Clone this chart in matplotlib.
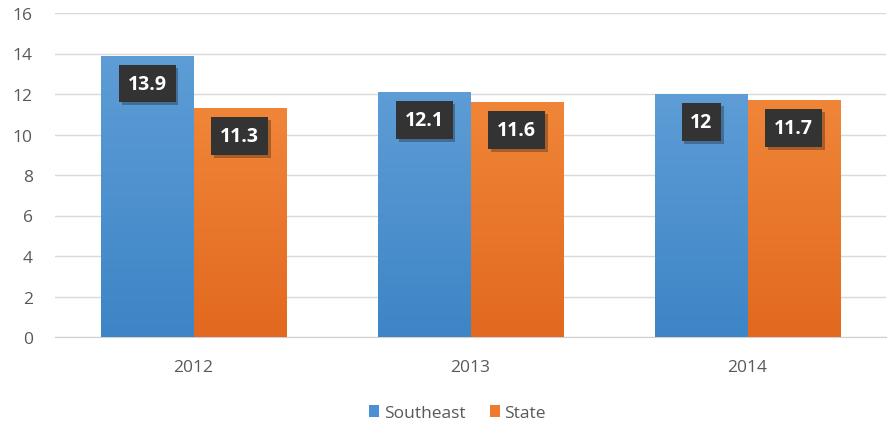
import numpy as np
import matplotlib.pyplot as plt
import matplotlib as mpl
from matplotlib.patches import Patch
import matplotlib.patheffects as pe

mpl.rcParams['font.family'] = ['Open Sans', 'DejaVu Sans']

years = ["2012", "2013", "2014"]
southeast = [13.9, 12.1, 12]
state = [11.3, 11.6, 11.7]
series_names = ["Southeast", "State"]

blue_top, blue_bot = "#5E9DD6", "#3D85C6"
orange_top, orange_bot = "#F08538", "#E2691F"

fig = plt.figure(figsize=(8.88, 4.27), dpi=100)
ax = fig.add_axes([55/888, 89/427, 831/888, 324/427])

x = np.arange(len(years))
w = 0.333

def gradient_bars(bars, c_top, c_bot):
    cmap = mpl.colors.LinearSegmentedColormap.from_list("g", [c_bot, c_top])
    for b in bars:
        x0, y0 = b.get_x(), b.get_y()
        x1, y1 = x0 + b.get_width(), y0 + b.get_height()
        grad = np.linspace(0, 1, 256).reshape(-1, 1)
        im = ax.imshow(grad, extent=[x0, x1, y0, y1], origin="lower",
                       cmap=cmap, aspect="auto", zorder=3)
        im.set_clip_path(b)
        b.set_facecolor("none")

b1 = ax.bar(x - w/2, southeast, w, color=blue_top, zorder=3, linewidth=0)
b2 = ax.bar(x + w/2, state, w, color=orange_top, zorder=3, linewidth=0)
gradient_bars(b1, blue_top, blue_bot)
gradient_bars(b2, orange_top, orange_bot)

# dark value boxes inside the bar tops
for bars, vals in [(b1, southeast), (b2, state)]:
    for b, v in zip(bars, vals):
        ax.annotate(f"{v:g}", (b.get_x() + b.get_width()/2, v),
                    xytext=(0, -28), textcoords="offset pixels",
                    ha="center", va="center", color="white", fontsize=14,
                    fontweight="bold", zorder=5,
                    bbox=dict(boxstyle="square,pad=0.45", fc="#333333", ec="none",
                              path_effects=[pe.withSimplePatchShadow(offset=(2, -2), alpha=0.3)]))

ax.set_xlim(-0.5, 2.5)
ax.set_ylim(0, 16)
ax.set_yticks(range(0, 17, 2))
ax.set_xticks(x, years)
ax.yaxis.grid(True, color="#d9d9d9", linewidth=1)
ax.set_axisbelow(True)
for s in ["top", "right", "left"]:
    ax.spines[s].set_visible(False)
ax.spines["bottom"].set_color("#d0d0d0")
ax.tick_params(axis="both", length=0, labelsize=12.5, labelcolor="#595959")
ax.tick_params(axis="x", pad=16)
ax.tick_params(axis="y", pad=16)

handles = [Patch(facecolor="#4A90D2", label=series_names[0]),
           Patch(facecolor="#EE7A30", label=series_names[1])]
fig.legend(handles=handles, loc="center", bbox_to_anchor=(0.515, 1 - 414/427),
           ncol=2, frameon=False, fontsize=12.5, handlelength=0.6, handleheight=0.7,
           handletextpad=0.25, columnspacing=1.4, labelcolor="#595959")

plt.savefig("out.png", dpi=100)
